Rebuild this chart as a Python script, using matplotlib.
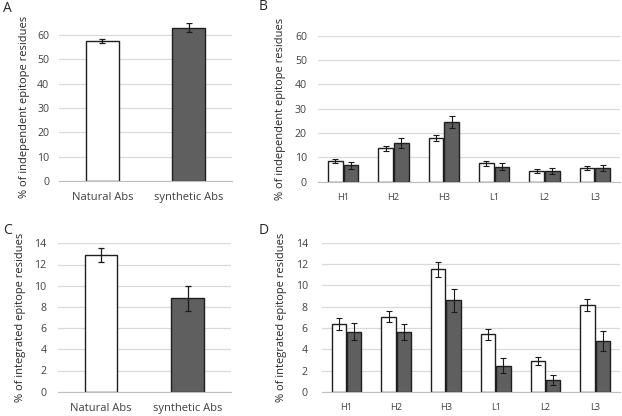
import matplotlib
matplotlib.use("Agg")
import matplotlib.pyplot as plt
import numpy as np

plt.rcParams['font.family'] = ['Open Sans', 'DejaVu Sans']

groups_AC = ["Natural Abs", "synthetic Abs"]
A_vals = [57.5, 63.0]
A_err = [1.0, 2.0]
C_vals = [12.9, 8.8]
C_err = [0.7, 1.2]

cdrs = ["H1", "H2", "H3", "L1", "L2", "L3"]
B_nat = [8.5, 13.7, 17.8, 7.5, 4.3, 5.6]
B_nat_err = [1.0, 1.0, 1.2, 1.0, 0.8, 0.8]
B_syn = [6.8, 15.8, 24.5, 6.2, 4.3, 5.5]
B_syn_err = [1.5, 2.0, 2.5, 1.5, 1.2, 1.2]
D_nat = [6.4, 7.05, 11.5, 5.4, 2.9, 8.15]
D_nat_err = [0.55, 0.5, 0.7, 0.5, 0.4, 0.6]
D_syn = [5.65, 5.65, 8.6, 2.45, 1.15, 4.8]
D_syn_err = [0.8, 0.75, 1.1, 0.7, 0.45, 0.95]

W, H = 622, 416
fig = plt.figure(figsize=(W / 100, H / 100), dpi=100)

def ax_px(left, right, top, bottom):
    return fig.add_axes([left / W, 1 - bottom / H, (right - left) / W, (bottom - top) / H])

WHITE = "white"
DARK = "#5f5f5f"
EDGE = "#1f1f1f"
GRID = "#d9d9d9"
FS = 7.6

def style(ax, ymax, step, ylabel, pad):
    ax.set_ylim(0, ymax)
    ax.set_yticks(np.arange(0, ymax + 0.01, step))
    ax.yaxis.grid(True, color=GRID, lw=0.9)
    ax.set_axisbelow(True)
    for s in ["top", "right", "left"]:
        ax.spines[s].set_visible(False)
    ax.spines["bottom"].set_color("#bfbfbf")
    ax.tick_params(axis="both", length=0, labelsize=FS, colors="#404040", pad=pad)
    ax.set_ylabel(ylabel, fontsize=FS + 0.4, color="#262626", labelpad=6)

def single(ax, vals, errs, ymax, step, ylabel, pad):
    x = np.arange(len(vals))
    ax.bar(x, vals, width=0.38, color=[WHITE, DARK], edgecolor=EDGE, lw=1.0,
           yerr=errs, capsize=2.5, error_kw=dict(ecolor="#1a1a1a", elinewidth=0.9, capthick=0.9))
    ax.set_xticks(x)
    ax.set_xticklabels(groups_AC)
    ax.set_xlim(-0.5, len(vals) - 0.5)
    style(ax, ymax, step, ylabel, pad)
    ax.tick_params(axis="x", labelsize=FS + 0.4, pad=8)

def paired(ax, nat, nerr, syn, serr, ymax, step, ylabel, pad):
    x = np.arange(len(nat))
    w = 0.29
    ekw = dict(ecolor="#1a1a1a", elinewidth=0.8, capthick=0.8)
    ax.bar(x - w / 2 - 0.01, nat, width=w, color=WHITE, edgecolor=EDGE, lw=1.0,
           yerr=nerr, capsize=2.2, error_kw=ekw)
    ax.bar(x + w / 2 + 0.01, syn, width=w, color=DARK, edgecolor=EDGE, lw=1.0,
           yerr=serr, capsize=2.2, error_kw=ekw)
    ax.set_xticks(x)
    ax.set_xticklabels(cdrs)
    ax.set_xlim(-0.5, len(nat) - 0.5)
    style(ax, ymax, step, ylabel, pad)
    ax.tick_params(axis="x", labelsize=FS - 0.9, pad=8)

axA = ax_px(59, 232, 22.7, 181)
single(axA, A_vals, A_err, 65, 10, "% of independent epitope residues", 7)
axA.set_yticks(np.arange(0, 61, 10))
axA.yaxis.set_label_coords(-0.17, 0.47)
axB = ax_px(318, 620, 35.7, 181.7)
paired(axB, B_nat, B_nat_err, B_syn, B_syn_err, 60, 10, "% of independent epitope residues", 8)
axC = ax_px(57.7, 231, 243.3, 391.7)
single(axC, C_vals, C_err, 14, 2, "% of integrated epitope residues", 8)
axD = ax_px(321.7, 620, 242.7, 392)
paired(axD, D_nat, D_nat_err, D_syn, D_syn_err, 14, 2, "% of integrated epitope residues", 10)

for lab, x, y in [("A", 3, 8), ("B", 259, 7), ("C", 3, 230), ("D", 259, 230)]:
    fig.text(x / W, 1 - y / H, lab, fontsize=10, color="#262626", va="center", ha="left")

fig.savefig("out.png", dpi=100)
